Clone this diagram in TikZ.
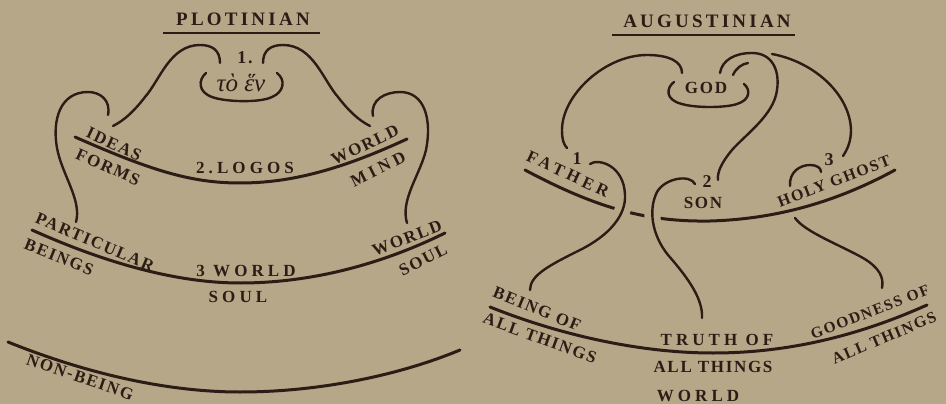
\documentclass[tikz,border=0pt]{standalone}
\usepackage{fontspec}
\setmainfont{Liberation Serif}
\newfontfamily\labfont[LetterSpace=10]{Liberation Serif}
\newfontfamily\widefont[LetterSpace=24]{Liberation Serif}
\newfontfamily\titfont[LetterSpace=17]{Liberation Serif}
\newfontfamily\grkfont{Liberation Serif}
\definecolor{bg}{HTML}{B5A787}
\definecolor{ink}{HTML}{2B1D16}
\begin{document}
\begin{tikzpicture}[x=1pt,y=-1pt,
  lvl/.style={draw=ink,line width=3pt,line cap=round},
  swirl/.style={draw=ink,line width=2.4pt,line cap=round},
  halo/.style={draw=bg,line width=16pt},
  rule/.style={draw=ink,line width=2.6pt},
  lab/.style={text=ink,inner sep=0pt,font=\labfont\bfseries\fontsize{17}{17}\selectfont},
  wlab/.style={text=ink,inner sep=0pt,font=\widefont\bfseries\fontsize{17}{17}\selectfont},
  tit/.style={text=ink,inner sep=0pt,font=\titfont\bfseries\fontsize{19}{19}\selectfont},
  num/.style={text=ink,inner sep=0pt,font=\labfont\bfseries\fontsize{18}{18}\selectfont}]
\fill[bg] (0,0) rectangle (946,404);
\useasboundingbox (0,0) rectangle (946,404);

%================ PLOTINIAN ================
\node[tit] (plot) at (243,19) {PLOTINIAN};
\coordinate (pu1) at (163,33); \coordinate (pu2) at (320,33);
\draw[rule] (pu1) -- (pu2);
\node[num] (one) at (245,58) {1.};
\node[text=ink,inner sep=0pt,font=\grkfont\itshape\fontsize{25}{25}\selectfont] (hen) at (241,83) {τὸ ἕν};
% bracket round the One
\draw[swirl] (206,73) .. controls (198,80) and (198,92) .. (212,97) .. controls (225,102) and (260,103) .. (272,97) .. controls (284,92) and (286,80) .. (277,73);
% inner swirls
\draw[swirl] (220,63) .. controls (220,50) and (212,45) .. (200,45) .. controls (170,45) and (160,80) .. (145,97) .. controls (135,110) and (125,120) .. (113,126);
\draw[swirl] (263,63) .. controls (263,50) and (271,45) .. (283,45) .. controls (313,45) and (323,80) .. (338,97) .. controls (348,110) and (358,120) .. (370,126);
% outer swirls
\draw[swirl] (108,115) .. controls (111,100) and (100,92) .. (88,92) .. controls (60,92) and (52,120) .. (57,148) .. controls (62,175) and (82,200) .. (76,222);
\draw[swirl] (373,116) .. controls (370,100) and (385,92) .. (400,92) .. controls (425,92) and (432,120) .. (426,150) .. controls (420,175) and (400,200) .. (407,223);
% levels
\draw[lvl] (75,137) .. controls (150,170) and (190,183) .. (240,183) .. controls (290,183) and (340,170) .. (407,139);
\draw[lvl] (32,230) .. controls (110,265) and (180,283) .. (240,283) .. controls (310,283) and (380,265) .. (445,233);
\draw[lvl] (8,342) .. controls (90,375) and (170,392) .. (240,392) .. controls (320,392) and (400,375) .. (460,350);
% labels
\node[lab,rotate=-25] (ideas) at (114,144) {IDEAS};
\node[lab,rotate=-24] (forms) at (108,167) {FORMS};
\node[wlab] (logos) at (245,168) {2.LOGOS};
\node[lab,rotate=26] (wmind1) at (365,145) {WORLD};
\node[wlab,rotate=27] (wmind2) at (378,169) {MIND};
\node[lab,rotate=-23] (partic) at (95,242) {PARTICULAR};
\node[lab,rotate=-22] (beings) at (59,257) {BEINGS};
\node[wlab] (wsoul1) at (246,271) {3 WORLD};
\node[wlab] (wsoul2) at (238,297) {SOUL};
\node[lab,rotate=21] (wsr1) at (407,238) {WORLD};
\node[lab,rotate=27] (wsr2) at (423,260) {SOUL};
\node[lab,rotate=-19] (nonb) at (80,377) {NON-BEING};

%================ AUGUSTINIAN ================
\node[tit] (aug) at (707,21) {AUGUSTINIAN};
\coordinate (au1) at (612,35); \coordinate (au2) at (795,35);
\draw[rule] (au1) -- (au2);
\node[lab] (god) at (706,88) {GOD};
% bracket round God
\draw[swirl] (674,82) .. controls (666,88) and (665,100) .. (682,104) .. controls (695,108) and (725,108) .. (737,104) .. controls (750,100) and (751,90) .. (744,84);
% Father arc
\draw[swirl] (682,73) .. controls (682,62) and (670,55) .. (647,55) .. controls (605,55) and (562,95) .. (562,130) .. controls (562,140) and (564,145) .. (567,148);
% Son arc
\draw[swirl] (720,73) .. controls (722,60) and (735,53) .. (752,53) .. controls (772,53) and (780,70) .. (777,90) .. controls (774,115) and (745,135) .. (732,150) .. controls (722,162) and (717,172) .. (718,180);
\draw[swirl] (733,75) .. controls (736,68) and (742,64) .. (748,63);
% Holy Ghost arc
\draw[swirl] (772,54) .. controls (815,62) and (850,95) .. (851,130) .. controls (851,142) and (847,150) .. (843,156);
% middle level
\draw[lvl] (525,170) .. controls (600,210) and (650,222) .. (710,221) .. controls (780,219) and (840,200) .. (895,170);
% world level
\draw[lvl] (490,307) .. controls (560,335) and (640,353) .. (713,353) .. controls (790,353) and (860,335) .. (927,305);
% halos that break the middle level
\draw[halo] (625,195) .. controls (626,215) and (610,235) .. (580,250);
\draw[halo] (657,192) .. controls (648,210) and (652,235) .. (668,255);
% Father descent
\draw[swirl] (590,164) .. controls (598,158) and (624,165) .. (625,195) .. controls (626,215) and (610,235) .. (580,250) .. controls (550,265) and (530,275) .. (530,290);
% Son descent
\draw[swirl] (695,184) .. controls (690,174) and (665,178) .. (657,192) .. controls (648,210) and (652,235) .. (668,255) .. controls (690,280) and (703,300) .. (702,318);
% Holy Ghost hook and descent
\draw[swirl] (790,186) .. controls (789,172) and (800,165) .. (810,165) .. controls (817,165) and (821,168) .. (821,172);
\draw[swirl] (795,218) .. controls (805,232) and (840,245) .. (863,258) .. controls (880,268) and (884,278) .. (882,288);
% labels
\node[num] (n1) at (577,159) {1};
\node[wlab,rotate=-25] (father) at (568,174) {FATHER};
\node[num] (n2) at (707,182) {2};
\node[lab] (son) at (703,203) {SON};
\node[num] (n3) at (829,160) {3};
\node[lab,font=\labfont\bfseries\fontsize{16}{16}\selectfont,rotate=21] (ghost) at (834,181) {HOLY GHOST};
\node[lab,rotate=-22] (beingof) at (537,309) {BEING OF};
\node[lab,rotate=-20] (allt1) at (540,338) {ALL THINGS};
\node[wlab] (truth) at (717,340) {TRUTH OF};
\node[lab] (allt2) at (713,367) {ALL THINGS};
\node[wlab] (world) at (698,396) {WORLD};
\node[lab,font=\labfont\bfseries\fontsize{15.5}{15.5}\selectfont,rotate=21] (good) at (870,312) {GOODNESS OF};
\node[lab,font=\labfont\bfseries\fontsize{16}{16}\selectfont,rotate=23] (allt3) at (884,338) {ALL THINGS};
\end{tikzpicture}
\end{document}
